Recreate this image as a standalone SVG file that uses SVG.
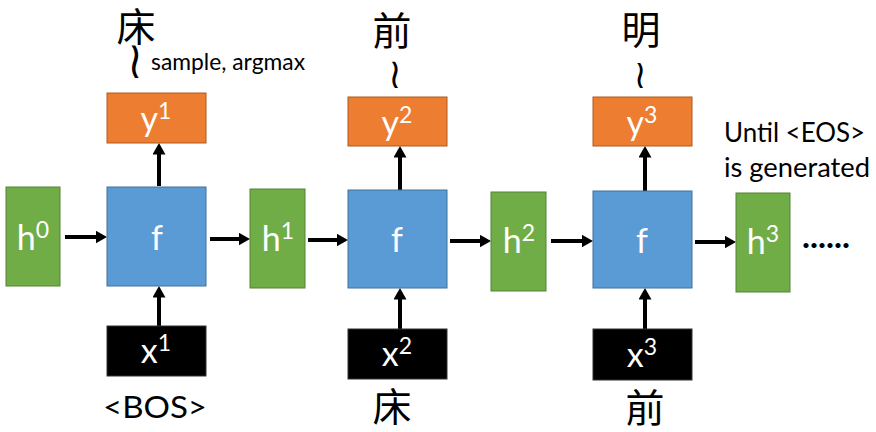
<svg xmlns="http://www.w3.org/2000/svg" width="876" height="432" viewBox="0 0 876 432">
<style>
.h{fill:#70AD47;stroke:#548235;stroke-width:1}
.f{fill:#5B9BD5;stroke:#41719C;stroke-width:1}
.y{fill:#ED7D31;stroke:#AE5A21;stroke-width:1}
.x{fill:#000;stroke:#333;stroke-width:1}
.lb{font-family:Lato,"Open Sans","Liberation Sans",sans-serif;font-size:34px;fill:#fff;text-anchor:middle}
.sp{font-size:23px}
.cjk{font-family:"Noto Sans CJK TC","Noto Sans CJK SC",serif;font-size:39px;fill:#000;text-anchor:middle}
.tl{font-family:"DejaVu Serif","DejaVu Sans",serif;fill:#000;text-anchor:middle}
.tx{font-family:Lato,"Open Sans","Liberation Sans",sans-serif;fill:#000}
.c line{stroke:#000;stroke-width:4;fill:none;marker-end:url(#ah)}
</style>
<defs>
<marker id="ah" markerUnits="userSpaceOnUse" markerWidth="12" markerHeight="13" refX="0.5" refY="6.5" orient="auto">
<path d="M0,0 L11.5,6.5 L0,13 z" fill="#000"/>
</marker>
</defs>

<g class="c" id="connectors">
<line x1="65" y1="237" x2="96" y2="237"/>
<line x1="210" y1="239" x2="239" y2="239"/>
<line x1="308" y1="240" x2="337" y2="240"/>
<line x1="450" y1="241" x2="480" y2="241"/>
<line x1="551" y1="241" x2="582" y2="241"/>
<line x1="695" y1="242" x2="725" y2="242"/>
<line x1="159" y1="326" x2="159" y2="297"/>
<line x1="400" y1="329" x2="400" y2="299"/>
<line x1="645" y1="329" x2="645" y2="299"/>
<line x1="159" y1="186" x2="159" y2="154"/>
<line x1="400" y1="190" x2="400" y2="157"/>
<line x1="645" y1="191" x2="645" y2="157"/>
</g>

<g id="h0"><rect class="h" x="6" y="187" width="54" height="99"/><text class="lb" x="33" y="250">h<tspan class="sp" dy="-12">0</tspan></text></g>
<g id="h1"><rect class="h" x="250" y="189" width="55" height="99"/><text class="lb" x="278" y="251">h<tspan class="sp" dy="-12">1</tspan></text></g>
<g id="h2"><rect class="h" x="491" y="192" width="55" height="99"/><text class="lb" x="519" y="253">h<tspan class="sp" dy="-12">2</tspan></text></g>
<g id="h3"><rect class="h" x="736" y="193" width="54" height="99"/><text class="lb" x="763" y="254">h<tspan class="sp" dy="-12">3</tspan></text></g>

<g id="f1"><rect class="f" x="107" y="187" width="99" height="99"/><text class="lb" x="157" y="250">f</text></g>
<g id="f2"><rect class="f" x="348" y="190" width="99" height="98"/><text class="lb" x="397" y="252">f</text></g>
<g id="f3"><rect class="f" x="593" y="191" width="99" height="97"/><text class="lb" x="642" y="253">f</text></g>

<g id="y1"><rect class="y" x="107" y="93" width="99" height="50"/><text class="lb" x="156" y="131">y<tspan class="sp" dy="-12">1</tspan></text></g>
<g id="y2"><rect class="y" x="348" y="97" width="99" height="49"/><text class="lb" x="397" y="135">y<tspan class="sp" dy="-12">2</tspan></text></g>
<g id="y3"><rect class="y" x="593" y="97" width="99" height="49"/><text class="lb" x="642" y="135">y<tspan class="sp" dy="-12">3</tspan></text></g>

<g id="x1"><rect class="x" x="107" y="326" width="99" height="50"/><text class="lb" x="156" y="363">x<tspan class="sp" dy="-12">1</tspan></text></g>
<g id="x2"><rect class="x" x="348" y="329" width="99" height="50"/><text class="lb" x="397" y="366">x<tspan class="sp" dy="-12">2</tspan></text></g>
<g id="x3"><rect class="x" x="593" y="329" width="99" height="51"/><text class="lb" x="642" y="367">x<tspan class="sp" dy="-12">3</tspan></text></g>

<g id="out1"><text class="cjk" x="136" y="41">床</text><text class="tl" transform="translate(135,78) scale(0.8,1)" x="0" y="0" font-size="52">≀</text><text class="tx" x="151" y="70" font-size="23" textLength="154" lengthAdjust="spacingAndGlyphs">sample, argmax</text></g>
<g id="out2"><text class="cjk" x="392" y="45">前</text><text class="tl" transform="translate(395,88) scale(0.85,1)" x="0" y="0" font-size="42">≀</text></g>
<g id="out3"><text class="cjk" x="641" y="44">明</text><text class="tl" transform="translate(640,88) scale(0.85,1)" x="0" y="0" font-size="40">≀</text></g>

<g id="in1"><text class="tx" x="103" y="418" font-size="31" textLength="104" lengthAdjust="spacingAndGlyphs">&lt;BOS&gt;</text></g>
<g id="in2"><text class="cjk" x="392" y="421">床</text></g>
<g id="in3"><text class="cjk" x="645" y="422">前</text></g>

<g id="note"><text class="tx" x="724" y="142" font-size="26" textLength="141" lengthAdjust="spacingAndGlyphs">Until &lt;EOS&gt;</text><text class="tx" x="724" y="177" font-size="26" textLength="146" lengthAdjust="spacingAndGlyphs">is generated</text></g>
<g id="dots"><text class="tx" x="802" y="248" font-size="32" font-weight="bold" textLength="48" lengthAdjust="spacingAndGlyphs">......</text></g>
</svg>
